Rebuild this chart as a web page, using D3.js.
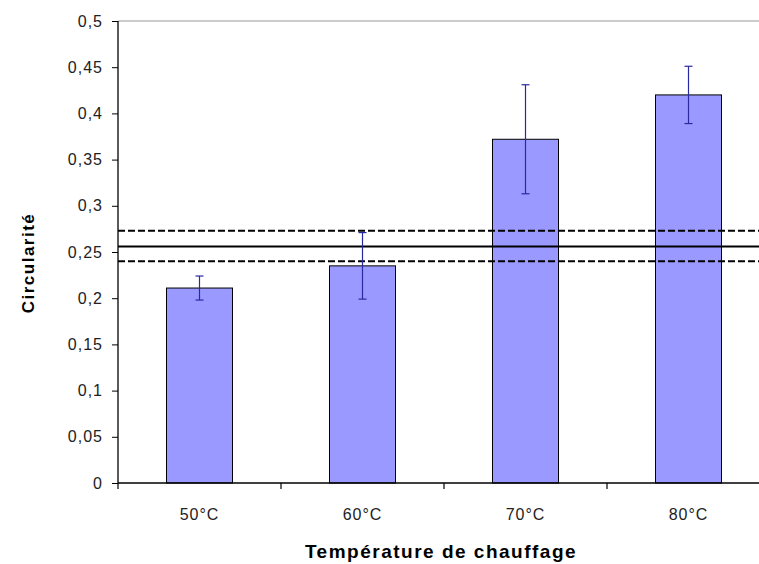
<!DOCTYPE html>
<html><head><meta charset="utf-8">
<script src="https://cdn.jsdelivr.net/npm/d3@7"></script>
<style>body{margin:0;background:#fff}svg{display:block;font-family:Arial,"Liberation Sans",sans-serif}</style>
</head><body><svg id="c" width="759" height="564"></svg>
<script>
const categories = ["50°C","60°C","70°C","80°C"];
const values = [0.211, 0.235, 0.372, 0.420];
const errors = [0.013, 0.036, 0.059, 0.031];
const refMean = 0.256;
const refBand = [0.240, 0.273];
const yTicks = [0,0.05,0.1,0.15,0.2,0.25,0.3,0.35,0.4,0.45,0.5];
const yLabel = "Circularité";
const xLabel = "Température de chauffage";

const svg = d3.select("#c");
const L = 118, T = 21, B = 483, R = 770;
const x = d3.scaleBand().domain(categories).range([L, R]).paddingInner(0).paddingOuter(0);
const y = d3.scaleLinear().domain([0, 0.5]).range([B, T]);
const fmt = d => String(d).replace(".", ",");
const FONT = "Arial, 'Liberation Sans', sans-serif";

// top border
svg.append("line").attr("x1", L).attr("x2", 759).attr("y1", y(0.5)).attr("y2", y(0.5))
  .attr("stroke", "#999").attr("stroke-width", 1.2);

// bars
const bw = 66;
svg.selectAll("rect.bar").data(categories).enter().append("rect")
  .attr("x", (d) => x(d) + x.bandwidth()/2 - bw/2)
  .attr("y", (d,i) => y(values[i]))
  .attr("width", bw)
  .attr("height", (d,i) => y(0) - y(values[i]))
  .attr("fill", "#9999ff").attr("stroke", "#000").attr("stroke-width", 1);

// reference lines
const refG = svg.append("g");
refG.append("line").attr("x1", L).attr("x2", 759).attr("y1", y(refMean)).attr("y2", y(refMean))
  .attr("stroke", "#000").attr("stroke-width", 2);
refBand.forEach(v => refG.append("line").attr("x1", L).attr("x2", 759).attr("y1", y(v)).attr("y2", y(v))
  .attr("stroke", "#000").attr("stroke-width", 2).attr("stroke-dasharray", "7,3"));

// error bars
const eg = svg.append("g").attr("stroke", "#2a2aa0").attr("stroke-width", 1.2);
categories.forEach((c,i) => {
  const cx = x(c) + x.bandwidth()/2;
  const yt = y(values[i] + errors[i]), yb = y(values[i] - errors[i]);
  eg.append("line").attr("x1", cx).attr("x2", cx).attr("y1", yt).attr("y2", yb);
  eg.append("line").attr("x1", cx-4).attr("x2", cx+4).attr("y1", yt).attr("y2", yt);
  eg.append("line").attr("x1", cx-4).attr("x2", cx+4).attr("y1", yb).attr("y2", yb);
});

// y axis
const ya = svg.append("g").attr("transform", `translate(${L},0)`)
  .call(d3.axisLeft(y).tickValues(yTicks).tickFormat(fmt).tickSize(6).tickPadding(9));
ya.select(".domain").attr("stroke", "#000").attr("stroke-width", 1.3).attr("d", `M0,${T}V${B}`);
ya.selectAll(".tick line").attr("stroke", "#000");
ya.selectAll("text").attr("font-size", 16).attr("letter-spacing", 1).attr("fill", "#222").attr("font-family", FONT);

// x axis
const xa = svg.append("g").attr("transform", `translate(0,${B})`)
  .call(d3.axisBottom(x).tickSize(0).tickPadding(0));
xa.select(".domain").attr("stroke", "#000").attr("stroke-width", 1.3).attr("d", `M${L},0H759`);
xa.selectAll("text").attr("y", 37).attr("dy", null).attr("font-size", 16).attr("letter-spacing", 1)
  .attr("fill", "#222").attr("font-family", FONT);
const bounds = categories.map(c => x(c)).concat([R]);
xa.selectAll("line.b").data(bounds).enter().append("line").attr("class","b")
  .attr("x1", d => d).attr("x2", d => d).attr("y1", 0).attr("y2", 6).attr("stroke", "#000").attr("stroke-width", 1.2);

// titles
svg.append("text").attr("x", 441).attr("y", 558).attr("text-anchor", "middle")
  .attr("font-size", 19).attr("letter-spacing", 1.5).attr("font-weight", "bold").attr("font-family", FONT).text(xLabel);
svg.append("text").attr("transform", `translate(34,263) rotate(-90)`).attr("text-anchor", "middle")
  .attr("font-size", 17).attr("letter-spacing", 1.5).attr("font-weight", "bold").attr("font-family", FONT).text(yLabel);
</script></body></html>
